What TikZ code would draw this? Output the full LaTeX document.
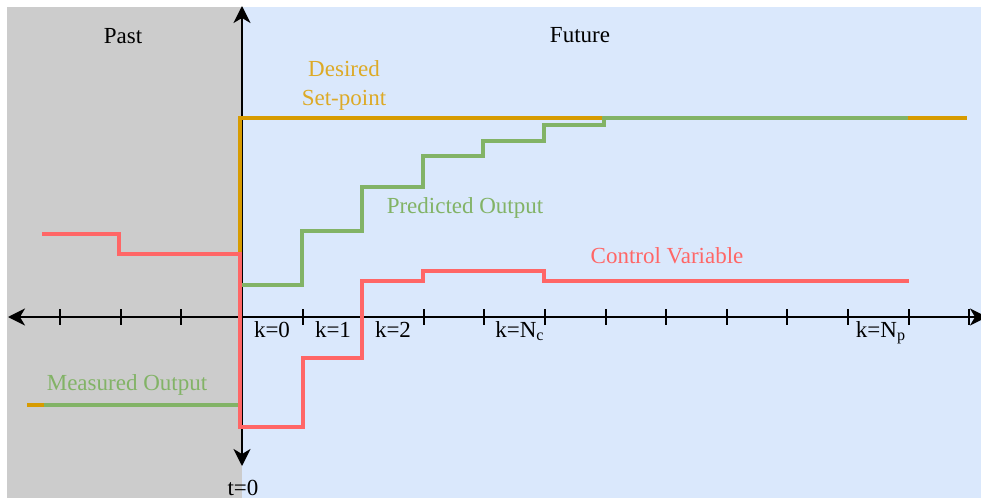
\documentclass[tikz,border=0pt]{standalone}
\usepackage{fontspec}
\setmainfont{Liberation Serif}
\usepackage{xcolor}
\usetikzlibrary{positioning,arrows.meta}
\definecolor{pastgray}{HTML}{CCCCCC}
\definecolor{futblue}{HTML}{DAE8FC}
\definecolor{setorange}{HTML}{D79B00}
\definecolor{outgreen}{HTML}{82B366}
\definecolor{ctrlred}{HTML}{FF6666}
\tikzset{
  axis/.style={draw=black, line width=1pt, {Stealth[length=8.5pt,width=8.5pt,inset=2.5pt]}-{Stealth[length=8.5pt,width=8.5pt,inset=2.5pt]}},
  tick/.style={draw=black, line width=1pt},
  setpt/.style={draw=setorange, line width=1.7pt},
  outp/.style={draw=outgreen, line width=1.7pt},
  ctrl/.style={draw=ctrlred, line width=1.7pt},
  lbl/.style={font=\fontsize{11.5pt}{14.5pt}\selectfont, inner sep=0pt, anchor=base},
  mpc/.style={x=0.5pt, y=-0.5pt}
}

\begin{document}
\begin{tikzpicture}[mpc]
  \useasboundingbox (0,0) rectangle (981,498);
  % past / future areas
  \fill[pastgray] (7,7) rectangle (242,498);
  \fill[futblue] (242,7) rectangle (981,498);
  % axes
  \coordinate (xl) at (8,317);
  \coordinate (xr) at (987,317);
  \coordinate (yt) at (242,6);
  \coordinate (yb) at (242,466);
  \draw[axis] (xl) -- (xr);
  \draw[axis] (yb) -- (yt);
  \foreach \i in {-3,...,12}
    \draw[tick] ({242+60.6*\i},309) -- ({242+60.6*\i},325);
  % signals
  \draw[setpt] (27,405) -- (240,405) -- (240,118) -- (967,118);
  \draw[outp] (44,405) -- (240,405) -- (240,285) -- (302,285) -- (302,231)
    -- (362,231) -- (362,187) -- (423,187) -- (423,156) -- (483,156)
    -- (483,141) -- (544,141) -- (544,125) -- (604,125) -- (604,118) -- (908,118);
  \draw[ctrl] (42,234) -- (119,234) -- (119,254) -- (240,254) -- (240,427)
    -- (303,427) -- (303,358) -- (362,358) -- (362,281) -- (423,281)
    -- (423,271) -- (544,271) -- (544,281) -- (909,281);
  % texts
  \node[lbl] (past) at (123,43) {Past};
  \node[lbl] (future) at (580,42) {Future};
  \node[lbl, text=setorange!85!white, align=center] (desired) at (344,105) {Desired\\Set-point};
  \node[lbl, text=outgreen] (pred) at (465,213) {Predicted Output};
  \node[lbl, text=ctrlred] (cv) at (667,263) {Control Variable};
  \node[lbl, text=outgreen] (meas) at (127,390) {Measured Output};
  \node[lbl] (t0) at (243,495) {t=0};
  \node[lbl] (k0) at (272,337) {k=0};
  \node[lbl] (k1) at (333,337) {k=1};
  \node[lbl] (k2) at (393,337) {k=2};
  \node[lbl] (kc) at (520,337) {k=N\textsubscript{c}};
  \node[lbl] (kp) at (881,337) {k=N\textsubscript{p}};
\end{tikzpicture}
\end{document}
